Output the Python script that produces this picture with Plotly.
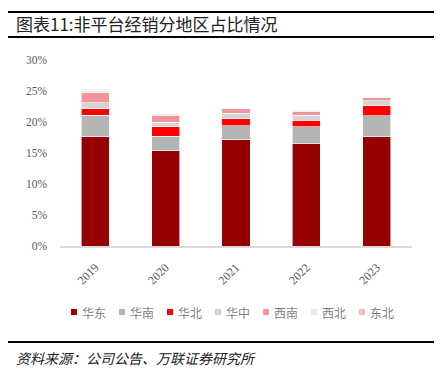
import plotly.graph_objects as go

years = ["2019", "2020", "2021", "2022", "2023"]
regions = ["华东", "华南", "华北", "华中", "西南", "西北", "东北"]
huadong = [17.6, 15.4, 17.1, 16.5, 17.6]
huanan = [3.5, 2.3, 2.3, 2.7, 3.4]
huabei = [1.0, 1.5, 1.1, 1.1, 1.6]
huazhong = [1.0, 0.8, 0.9, 0.8, 0.8]
xinan = [1.7, 1.0, 0.7, 0.6, 0.5]
xibei = [0.3, 0.2, 0.1, 0.1, 0.1]
dongbei = [0.2, 0.1, 0.1, 0.1, 0.1]
series = [huadong, huanan, huabei, huazhong, xinan, xibei, dongbei]
colors = ["#960000", "#B4B4B4", "#FF0000", "#D4D4D4", "#F0949C", "#E6E6E6", "#F8B9BE"]
yticks = [0, 5, 10, 15, 20, 25, 30]
ytick_labels = [f"{v}%" for v in yticks]

serif = "Liberation Serif, Noto Sans CJK SC, serif"
cjk = "Noto Sans CJK SC, sans-serif"

# plot-area geometry in figure pixels
L, T, W, H = 52, 52, 352, 186

def px_x(x):
    return (x - L) / W

def px_y(y):
    return (T + H - y) / H

fig = go.Figure()
for name, vals, c in zip(regions, series, colors):
    fig.add_trace(go.Bar(
        x=years, y=vals, name=name, showlegend=False,
        marker=dict(color=c, line=dict(color="white", width=0.6)),
    ))

annotations = [
    dict(text="图表11:非平台经销分地区占比情况", xref="paper", yref="paper",
         x=px_x(6), y=px_y(16), xanchor="left", yanchor="middle", showarrow=False,
         font=dict(family=cjk, size=17, color="#222222")),
    dict(text="<i>资料来源：公司公告、万联证券研究所</i>", xref="paper", yref="paper",
         x=px_x(6), y=px_y(350), xanchor="left", yanchor="middle", showarrow=False,
         font=dict(family=cjk, size=14, color="#222222")),
]
shapes = [
    dict(type="line", xref="paper", yref="paper", x0=px_x(-8), x1=px_x(426),
         y0=px_y(4), y1=px_y(4), line=dict(color="black", width=2)),
    dict(type="line", xref="paper", yref="paper", x0=px_x(-8), x1=px_x(426),
         y0=px_y(29), y1=px_y(29), line=dict(color="black", width=2)),
    dict(type="line", xref="paper", yref="paper", x0=px_x(-8), x1=px_x(426),
         y0=px_y(334), y1=px_y(334), line=dict(color="black", width=2)),
]

# legend keys
leg_y = 304
for i, (name, c) in enumerate(zip(regions, colors)):
    sx = 63 + i * 48
    shapes.append(dict(type="rect", xref="paper", yref="paper",
                       x0=px_x(sx), x1=px_x(sx + 6), y0=px_y(leg_y + 3), y1=px_y(leg_y - 3),
                       fillcolor=c, line=dict(width=0)))
    annotations.append(dict(text=name, xref="paper", yref="paper",
                            x=px_x(sx + 9), y=px_y(leg_y), xanchor="left", yanchor="middle",
                            showarrow=False,
                            font=dict(family=cjk, size=12, color="#7F7F7F")))

fig.update_layout(
    width=444, height=377,
    margin=dict(l=L, r=444 - L - W, t=T, b=377 - T - H, autoexpand=False),
    barmode="stack", bargap=0.6,
    plot_bgcolor="white", paper_bgcolor="white",
    showlegend=False,
    xaxis=dict(showgrid=False, showline=True, linecolor="#D9D9D9", linewidth=1.5,
               ticks="", tickangle=-45, ticklabelstandoff=8,
               tickfont=dict(family=serif, size=12, color="#595959")),
    yaxis=dict(range=[0, 30], tickvals=yticks, ticktext=ytick_labels, showgrid=False,
               showline=False, zeroline=False, ticks="", ticklabelstandoff=12,
               tickfont=dict(family=serif, size=11.5, color="#595959")),
    annotations=annotations,
    shapes=shapes,
)

fig.write_html("out.html")
